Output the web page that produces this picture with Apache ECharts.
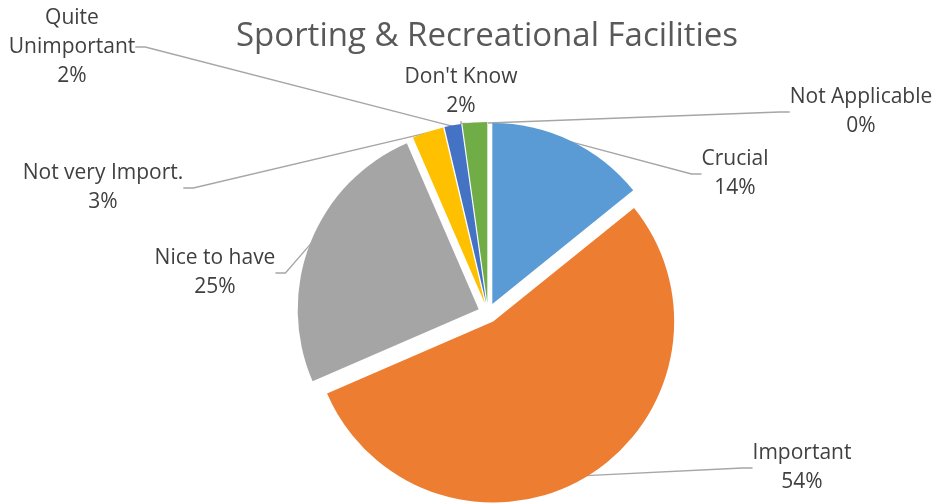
<!DOCTYPE html>
<html>
<head>
<meta charset="utf-8">
<script src="https://cdn.jsdelivr.net/npm/echarts@6/dist/echarts.min.js"></script>
<style>
html,body{margin:0;padding:0;background:#fff;}
#chart{width:937px;height:504px;}
</style>
</head>
<body>
<div id="chart"></div>
<script>
var titleText = 'Sporting & Recreational Facilities';
var categories = ['Crucial', 'Important', 'Nice to have', 'Not very Import.', 'Quite\nUnimportant', "Don't Know", 'Not Applicable'];
var values = [14.2, 54.3, 25.0, 2.8, 1.5, 2.2, 0];
var colors = ['#5B9BD5', '#ED7D31', '#A5A5A5', '#FFC000', '#4472C4', '#70AD47', '#255E91'];

// label anchor positions (text block centres)
var labelPos = [
  [735, 174], [802, 468], [215, 273], [103, 188], [72, 47], [461, 92], [861, 112]
];

var chart = echarts.init(document.getElementById('chart'));
var sliceData = categories.map(function (c, i) {
  return { name: c, value: values[i], selected: true, itemStyle: { color: colors[i] } };
});
var labelData = categories.map(function (c, i) {
  return { name: c, value: values[i] };
});

chart.setOption({
  animation: false,
  title: {
    text: titleText,
    left: 231,
    top: 15,
    textStyle: { fontFamily: 'Open Sans', fontSize: 33, fontWeight: 'normal', color: '#595959' }
  },
  series: [{
    type: 'pie',
    center: [488, 313],
    radius: 181,
    startAngle: 90,
    clockwise: true,
    selectedMode: 'multiple',
    selectedOffset: 10,
    emphasis: { disabled: true },
    label: { show: false },
    labelLine: { show: false },
    data: sliceData,
    z: 2
  }, {
    type: 'pie',
    center: [488, 313],
    radius: 190,
    startAngle: 90,
    clockwise: true,
    silent: true,
    selectedMode: false,
    itemStyle: { color: 'rgba(0,0,0,0)', borderWidth: 0 },
    emphasis: { disabled: true },
    avoidLabelOverlap: false,
    data: labelData,
    z: 1,
    label: {
      show: true,
      position: 'outside',
      fontFamily: 'Open Sans',
      fontSize: 21,
      lineHeight: 29,
      color: '#404040',
      align: 'center',
      formatter: function (p) {
        return p.name + '\n' + Math.round(p.percent) + '%';
      }
    },
    labelLine: {
      show: true,
      length: 10,
      length2: 10,
      lineStyle: { color: '#A6A6A6', width: 1.3 }
    },
    labelLayout: function (p) {
      var pos = labelPos[p.dataIndex];
      return { x: pos[0], y: pos[1], align: 'center', verticalAlign: 'middle' };
    }
  }]
});
</script>
</body>
</html>
